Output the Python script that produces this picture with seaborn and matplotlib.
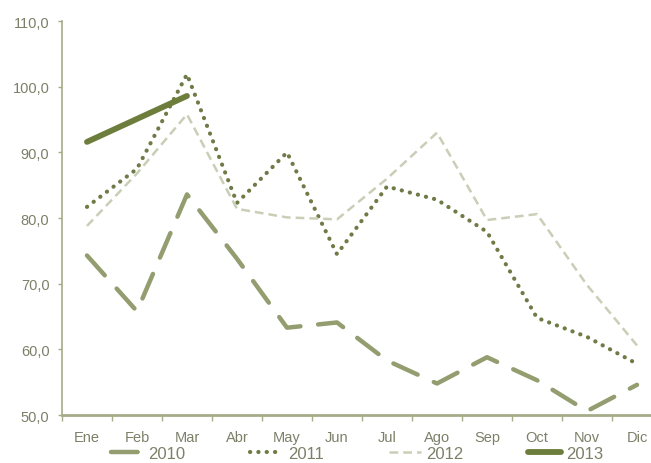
import pandas as pd
import matplotlib.pyplot as plt
import seaborn as sns

# Monthly values
months = ['Ene', 'Feb', 'Mar', 'Abr', 'May', 'Jun', 'Jul', 'Ago', 'Sep', 'Oct', 'Nov', 'Dic']
y2010 = [74.3, 65.8, 83.6, 73.8, 63.3, 64.1, 58.3, 54.8, 58.8, 55.3, 50.6, 54.6]
y2011 = [81.7, 87.5, 101.9, 82.3, 90.0, 74.5, 84.8, 82.8, 77.9, 64.8, 61.9, 57.8]
y2012 = [78.8, 86.8, 95.8, 81.4, 80.1, 79.8, 86.0, 93.0, 79.7, 80.6, 69.8, 60.6]
y2013 = [91.6, 95.1, 98.6]

sns.set_style('white')
plt.rcParams['font.family'] = ['Liberation Sans', 'DejaVu Sans']

fig = plt.figure(figsize=(6.51, 4.64), dpi=100)
ax = fig.add_axes([0.0952, 0.1034, 0.9217, 0.849])

axis_col = '#a4ad88'
text_col = '#7c8068'

sns.lineplot(x=list(range(12)), y=y2010, ax=ax, color='#939d70', lw=3.2,
             label='2010')
sns.lineplot(x=list(range(12)), y=y2011, ax=ax, color='#6f7b47', lw=3.0,
             label='2011')
sns.lineplot(x=list(range(12)), y=y2012, ax=ax, color='#c9cfb6', lw=1.8,
             label='2012')
sns.lineplot(x=list(range(3)), y=y2013, ax=ax, color='#6d7d3c', lw=4.2,
             label='2013')

lines = ax.get_lines()
lines[0].set_dashes((6, 4))
lines[0].set_dash_capstyle('round')
lines[1].set_dashes((0.05, 1.95))
lines[1].set_dash_capstyle('round')
lines[2].set_dashes((3.5, 2))
lines[3].set_solid_capstyle('round')

ax.set_xlim(-0.5, 11.5)
ax.set_ylim(50, 110)
ax.set_yticks(range(50, 111, 10))
ax.set_yticklabels([f'{v:.1f}'.replace('.', ',') for v in range(50, 111, 10)])
ax.set_xticks(range(12))
ax.set_xticklabels(months)
ax.set_xticks([i - 0.5 for i in range(13)], minor=True)
ax.tick_params(axis='x', which='major', length=0, pad=11, labelsize=10.5, labelcolor=text_col)
ax.tick_params(axis='x', which='minor', length=4, width=1, color=axis_col, direction='out', bottom=True)
ax.tick_params(axis='y', length=3, width=1, color=axis_col, direction='out', left=True,
               pad=6, labelsize=10.5, labelcolor=text_col)

for side in ['top', 'right']:
    ax.spines[side].set_visible(False)
ax.spines['left'].set_color(axis_col)
ax.spines['left'].set_linewidth(1.2)
ax.spines['bottom'].set_color(axis_col)
ax.spines['bottom'].set_linewidth(2)
ax.set_xlabel('')
ax.set_ylabel('')

handles, labels = ax.get_legend_handles_labels()
ax.legend_.remove()
leg = fig.legend(handles, labels, loc='center', bbox_to_anchor=(0.548, 0.02), ncol=4,
                 frameon=False, fontsize=12, handlelength=1.95, handletextpad=0.3,
                 columnspacing=3.9, labelcolor=text_col, borderpad=0.1)

fig.savefig('out.png', dpi=100)
